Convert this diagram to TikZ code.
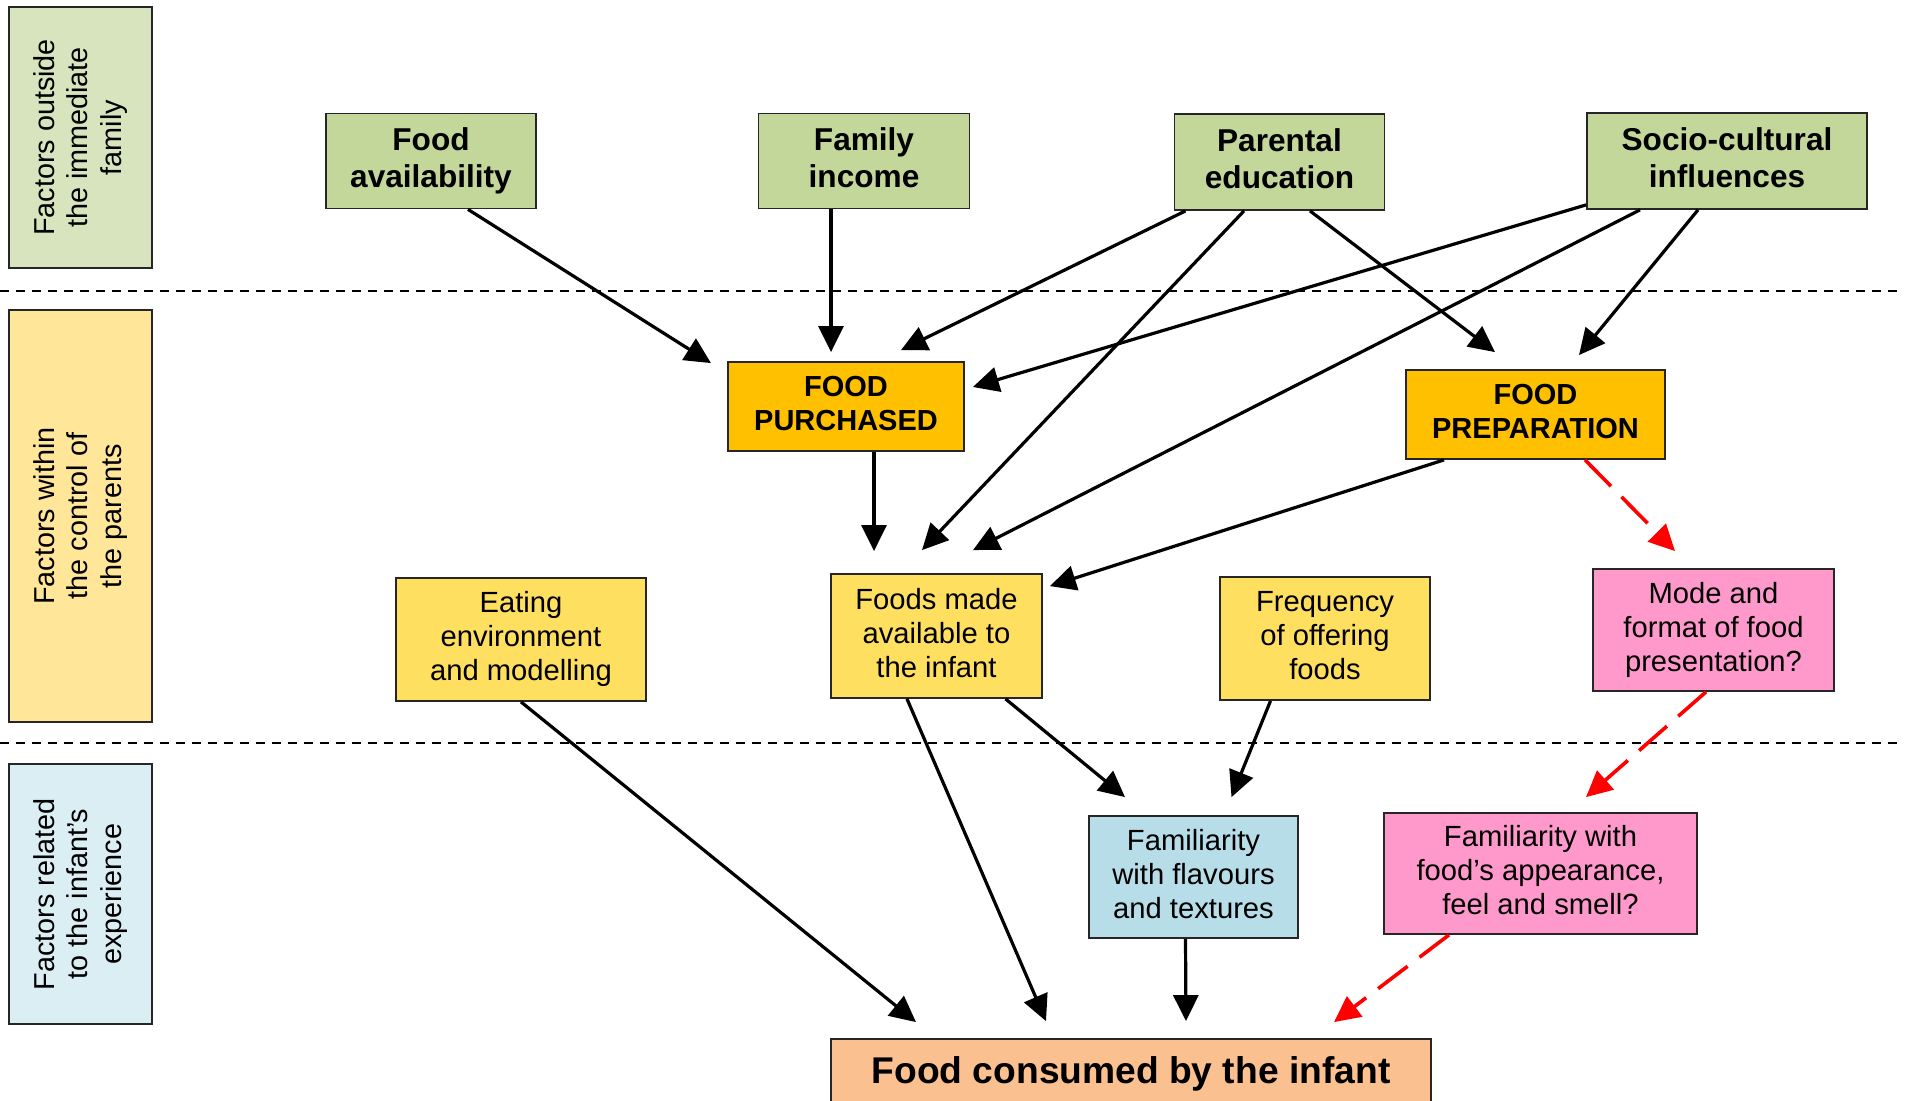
\documentclass[tikz,border=0pt]{standalone}
\usepackage{fontspec}
\setmainfont{Liberation Sans}
\usetikzlibrary{arrows.meta}

\definecolor{outgreen}{HTML}{D7E4BD}
\definecolor{boxgreen}{HTML}{C4D79B}
\definecolor{ctlyellow}{HTML}{FFE699}
\definecolor{boxyellow}{HTML}{FFDF5F}
\definecolor{boxorange}{HTML}{FFC000}
\definecolor{boxpink}{HTML}{FF99CC}
\definecolor{expblue}{HTML}{DAEEF3}
\definecolor{boxblue}{HTML}{B7DEE8}
\definecolor{boxpeach}{HTML}{FAC090}

% line box with the ascent and descent of the font
\newcommand\linestrut{\rule[-0.212em]{0pt}{1.117em}}

\tikzset{
  base/.style={draw=black!85, line width=0.9pt, inner sep=0pt, align=center,
    execute at begin node={\linestrut}, execute at end node={\linestrut}},
  band/.style={base, rotate=90, font=\fontsize{14.4pt}{16.7pt}\selectfont},
  outer/.style={base, fill=boxgreen, font=\bfseries\fontsize{15.8pt}{18.3pt}\selectfont},
  key/.style={base, fill=boxorange, font=\bfseries\fontsize{14.5pt}{17pt}\selectfont},
  inner/.style={base, font=\fontsize{14.6pt}{17pt}\selectfont},
  link/.style={-{Triangle[length=13pt,width=12.5pt]}, line width=1.6pt},
  maybe/.style={link, color=red, line width=1.8pt, dash pattern=on 18.5pt off 7.5pt},
  sep/.style={line width=1.1pt, dash pattern=on 4.5pt off 3.5pt}
}

\begin{document}
\begin{tikzpicture}[x=0.5pt,y=-0.5pt]
\useasboundingbox (0,0) rectangle (1907,1101);

% level separators
\coordinate (s1a) at (0,291);   \coordinate (s1b) at (1898,291);
\coordinate (s2a) at (0,743);   \coordinate (s2b) at (1898,743);
\draw[sep] (s1a) -- (s1b);
\draw[sep] (s2a) -- (s2b);

% level labels
\node[band, fill=outgreen, minimum width=130.5pt, minimum height=71.5pt] (lab1) at (80.5,137.5)
  {Factors outside\\the immediate\\family};
\node[band, fill=ctlyellow, minimum width=206pt, minimum height=71.5pt] (lab2) at (80.5,516)
  {Factors within\\the control of\\the parents};
\node[band, fill=expblue, minimum width=130pt, minimum height=71.5pt] (lab3) at (80.5,894)
  {Factors related\\to the infant’s\\experience};

% outside the family
\node[outer, minimum width=105pt, minimum height=47.5pt] (fa) at (431,161) {Food\\availability};
\node[outer, minimum width=105.5pt, minimum height=47.5pt] (fi) at (864,161) {Family\\income};
\node[outer, minimum width=105pt, minimum height=48pt] (pe) at (1279.5,162) {Parental\\education};
\node[outer, minimum width=140pt, minimum height=48pt] (sc) at (1727,161) {Socio-cultural\\influences};

% within parents' control
\node[key, minimum width=118pt, minimum height=44.5pt] (fp) at (846,406.5) {FOOD\\PURCHASED};
\node[key, minimum width=129.5pt, minimum height=44.5pt] (fprep) at (1535.5,414.5) {FOOD\\PREPARATION};

\node[inner, fill=boxyellow, minimum width=125pt, minimum height=61.5pt] (ee) at (521,639.5)
  {Eating\\environment\\and modelling};
\node[inner, fill=boxyellow, minimum width=105.5pt, minimum height=62pt] (fm) at (936.5,636)
  {Foods made\\available to\\the infant};
\node[inner, fill=boxyellow, minimum width=105pt, minimum height=61.5pt] (fq) at (1325,638.5)
  {Frequency\\of offering\\foods};
\node[inner, fill=boxpink, minimum width=120.5pt, minimum height=61pt] (mo) at (1713.5,630)
  {Mode and\\format of food\\presentation?};

% infant's experience
\node[inner, fill=boxblue, minimum width=104.5pt, minimum height=61pt] (ff) at (1193.5,877)
  {Familiarity\\with flavours\\and textures};
\node[inner, fill=boxpink, minimum width=156.5pt, minimum height=60.5pt] (fap) at (1540.5,873.5)
  {Familiarity with\\food’s appearance,\\feel and smell?};

\node[base, fill=boxpeach, minimum width=300pt, minimum height=32pt,
      font=\bfseries\fontsize{18.6pt}{21pt}\selectfont] (fc) at (1131,1071)
  {Food consumed by the infant};

% influences on purchasing
\draw[link] ([xshift=18.5pt]fa.south) -- ([xshift=-67.5pt,yshift=-1pt]fp.north);
\draw[link] ([xshift=-16.5pt]fi.south) -- ([xshift=-7.5pt,yshift=4.5pt]fp.north);
\draw[link] ([xshift=-47pt]pe.south) -- ([xshift=27.5pt,yshift=5.5pt]fp.north);
\draw[link] ([yshift=2.5pt]sc.south west) -- ([xshift=4pt,yshift=9.75pt]fp.east);

% influences on foods made available
\draw[link] ([xshift=-17.75pt]pe.south) -- ([xshift=-7.25pt,yshift=11.5pt]fm.north);
\draw[link] ([xshift=-43.5pt]sc.south) -- ([xshift=18.25pt,yshift=11.5pt]fm.north);
\draw[link] ([xshift=14pt]fp.south) -- ([xshift=-31.25pt,yshift=11pt]fm.north);
\draw[link] ([xshift=-45.75pt]fprep.south) -- ([xshift=3.5pt,yshift=-6.5pt]fm.north east);

% influences on preparation
\draw[link] ([xshift=15.25pt]pe.south) -- ([xshift=-20.25pt,yshift=8.5pt]fprep.north);
\draw[link] ([xshift=-14.5pt]sc.south) -- ([xshift=21.75pt,yshift=7pt]fprep.north);

% presentation path
\draw[maybe] ([xshift=24.75pt]fprep.south) -- ([xshift=-19.25pt,yshift=8.5pt]mo.north);
\draw[maybe] ([xshift=-3.75pt]mo.south) -- ([xshift=22.75pt,yshift=7.5pt]fap.north);

% familiarity with flavours
\draw[link] ([xshift=34.5pt]fm.south) -- ([xshift=-34.25pt,yshift=9pt]ff.north);
\draw[link] ([xshift=-27.25pt]fq.south) -- ([xshift=19pt,yshift=9pt]ff.north);

% into consumption
\draw[link] (ee.south) -- ([xshift=-107.5pt,yshift=8pt]fc.north);
\draw[link] ([xshift=-14.75pt]fm.south) -- ([xshift=-42.5pt,yshift=8.5pt]fc.north);
\draw[link] ([xshift=-4pt]ff.south) -- ([xshift=27.5pt,yshift=8.5pt]fc.north);
\draw[maybe] ([xshift=-45.75pt]fap.south) -- ([xshift=101.5pt,yshift=8pt]fc.north);
\end{tikzpicture}
\end{document}
